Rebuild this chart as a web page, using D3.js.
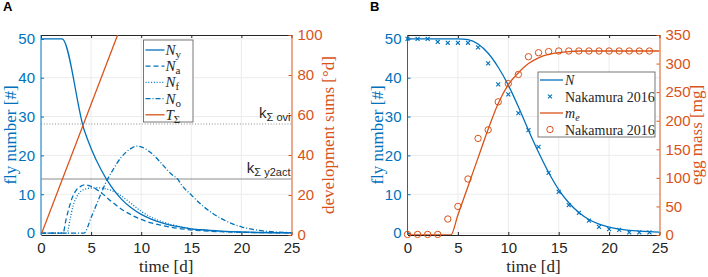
<!DOCTYPE html>
<html>
<head>
<meta charset="utf-8">
<script src="https://cdn.jsdelivr.net/npm/d3@7"></script>
<style>
body { margin: 0; background: #fff; }
</style>
</head>
<body>
<script>
const w = 708, h = 277;
const blue = "#0072BD", orange = "#D95319";
const sans = "'Liberation Sans', Arial, sans-serif";
const serif = "'Liberation Serif', 'DejaVu Serif', serif";

const timeTicks = [0, 5, 10, 15, 20, 25];
const flyTicks = [0, 10, 20, 30, 40, 50];
const sumTicks = [0, 20, 40, 60, 80, 100];
const massTicks = [0, 50, 100, 150, 200, 250, 300, 350];

// panel A
const nyT = [0, 2.1, 4.3, 5, 6, 7, 8, 9, 10, 11, 12, 13, 14, 15, 16, 18, 20, 22, 25];
const nyV = [50, 50, 26.6, 21.8, 16.3, 12.0, 8.8, 6.5, 4.8, 3.6, 2.7, 2.0, 1.5, 1.1, 0.85, 0.5, 0.28, 0.15, 0.06];
const naT = [0, 2.2, 2.5, 2.8, 3.1, 3.5, 4.0, 4.4, 5, 6, 7, 8, 9, 10, 11, 12, 13, 14, 16, 18, 20, 25];
const naV = [0, 0, 3.5, 6.5, 9.0, 11.0, 12.1, 12.4, 12.0, 10.4, 8.2, 6.2, 4.7, 3.5, 2.6, 2.0, 1.5, 1.1, 0.6, 0.35, 0.2, 0.05];
const nfT = [0, 2.6, 2.9, 3.2, 3.6, 4.0, 4.5, 5, 5.5, 6, 7, 8, 9, 10, 11, 12, 13, 14, 15, 17, 20, 25];
const nfV = [0, 0, 3.5, 7.0, 9.5, 10.8, 11.4, 11.6, 11.7, 11.6, 11.0, 9.6, 7.6, 5.6, 4.1, 3.0, 2.2, 1.6, 1.1, 0.6, 0.2, 0.05];
const noT = [0, 4.3, 5, 6, 6.6, 7, 8, 9, 9.6, 10, 11, 12, 13, 13.7, 14, 15, 16, 17, 18, 19, 20, 21, 22, 23, 25];
const noV = [0, 0, 4, 10.2, 13.7, 15.5, 19.5, 21.8, 22.4, 22.2, 20.6, 18.0, 15.2, 13.7, 12.5, 9.8, 7.3, 5.3, 3.7, 2.5, 1.6, 1.0, 0.6, 0.35, 0.1];
const tsT = [0, 25];
const tsV = [0, 327];
const kOvi = 55.5;
const kY2act = 28;

// panel B
const nT = [0, 1, 2, 3, 4, 5, 6, 7, 8, 9, 10, 11, 12, 13, 14, 15, 16, 17, 18, 19, 20, 21, 22, 23, 24, 25];
const nV = [50, 50, 50, 50, 50, 50, 49.8, 48.7, 46.3, 42.7, 38.1, 32.5, 26.5, 20.8, 15.6, 11.2, 7.8, 5.3, 3.5, 2.3, 1.5, 1.0, 0.7, 0.5, 0.35, 0.25];
const nakNT = [0, 1, 2, 3, 4, 5, 6, 7, 8, 9, 10, 11, 12, 13, 14, 15, 16, 17, 18, 19, 20, 21, 22, 23, 24];
const nakNV = [50, 50, 50, 49.2, 49.0, 49.0, 49.0, 47.8, 43.7, 38.3, 35.7, 30.9, 26.5, 22.2, 15.5, 10.6, 7.2, 5.2, 3.2, 1.6, 1.0, 0.8, 0.2, 0.2, 0.2];
const meT = [0, 4.3, 5, 6, 7, 8, 9, 10, 11, 12, 13, 14, 15, 16, 17, 20, 25];
const meV = [0, 0, 35, 85, 135, 185, 230, 263, 284, 300, 310, 316, 319, 321, 322, 322, 322];
const nakMT = [0, 1, 2, 3, 4, 5, 6, 7, 8, 9, 10, 11, 12, 13, 14, 15, 16, 17, 18, 19, 20, 21, 22, 23, 24];
const nakMV = [1, 1, 1, 1, 28, 50, 98, 169, 184, 233, 265, 281, 312, 319, 321, 322, 322, 322, 322, 322, 322, 322, 322, 322, 322];

const svg = d3.select("body").append("svg").attr("width", w).attr("height", h);

function zip(t, v) { return t.map((d, i) => [d, v[i]]); }

function panel(id, x0, x1, rightTicks, rightMax, rightLabel, letter, letterX) {
  const top = 35, bottom = 235;
  const x = d3.scaleLinear().domain([0, 25]).range([x0, x1]);
  const yl = d3.scaleLinear().domain([-0.5, 51]).range([bottom, top]);
  const yr = d3.scaleLinear().domain([0, rightMax]).range([bottom, top]);
  const g = svg.append("g");

  g.append("clipPath").attr("id", "clip" + id).append("rect")
    .attr("x", x0).attr("y", top).attr("width", x1 - x0).attr("height", bottom - top);

  // grid
  g.selectAll(".gx").data(timeTicks.slice(1, -1)).enter().append("line")
    .attr("x1", d => x(d)).attr("x2", d => x(d)).attr("y1", top).attr("y2", bottom)
    .attr("stroke", "#ececec");
  g.selectAll(".gy").data(flyTicks).enter().append("line")
    .attr("x1", x0).attr("x2", x1).attr("y1", d => yl(d)).attr("y2", d => yl(d))
    .attr("stroke", "#ececec");

  const bottomAxis = g.append("g").attr("transform", "translate(0," + bottom + ")")
    .call(d3.axisBottom(x).tickValues(timeTicks).tickSize(-3).tickSizeOuter(0).tickPadding(7));
  bottomAxis.selectAll("text").style("font-size", "15px").style("font-family", sans).attr("fill", "#262626");
  bottomAxis.selectAll("line,path").attr("stroke", "#262626");
  const topAxis = g.append("g").attr("transform", "translate(0," + top + ")")
    .call(d3.axisTop(x).tickValues(timeTicks).tickSize(-3).tickSizeOuter(0).tickFormat(""));
  topAxis.selectAll("line,path").attr("stroke", "#262626");

  const la = g.append("g").attr("transform", "translate(" + x0 + ",0)")
    .call(d3.axisLeft(yl).tickValues(flyTicks).tickSize(-3).tickSizeOuter(0).tickPadding(6));
  la.select("path").attr("d", "M0," + top + "V" + bottom);
  la.selectAll("line,path").attr("stroke", blue);
  la.selectAll("text").style("font-size", "15px").style("font-family", sans).attr("fill", blue);

  const ra = g.append("g").attr("transform", "translate(" + x1 + ",0)")
    .call(d3.axisRight(yr).tickValues(rightTicks).tickSize(-3).tickSizeOuter(0).tickPadding(6));
  ra.selectAll("line,path").attr("stroke", orange);
  ra.selectAll("text").style("font-size", "15px").style("font-family", sans).attr("fill", orange);

  g.append("text").attr("x", (x0 + x1) / 2).attr("y", 272)
    .attr("text-anchor", "middle").style("font-family", serif).style("font-size", "17px")
    .attr("fill", "#262626").text("time [d]");
  g.append("text").attr("transform", "translate(" + (x0 - 25) + ",135) rotate(-90)")
    .attr("text-anchor", "middle").style("font-family", serif).style("font-size", "17px")
    .attr("fill", blue).text("fly number [#]");
  g.append("text").attr("transform", "translate(" + (x1 + 42) + ",135) rotate(-90)")
    .attr("text-anchor", "middle").style("font-family", serif).style("font-size", "17px")
    .attr("fill", orange).text(rightLabel);
  g.append("text").attr("x", letterX).attr("y", 11).style("font-family", sans)
    .style("font-weight", "bold").style("font-size", "13px").text(letter);

  const plot = g.append("g").attr("clip-path", "url(#clip" + id + ")");
  return { x, yl, yr, g, plot };
}

const A = panel("A", 41, 291.5, sumTicks, 100, "development sums [°d]", "A", 3);
const B = panel("B", 407.5, 659.5, massTicks, 350, "egg mass [mg]", "B", 370);

// panel A marks
const lineA = d3.line().x(d => A.x(d[0])).y(d => A.yl(d[1])).curve(d3.curveMonotoneX);
const seriesA = [
  { data: zip(nyT, nyV), dash: null },
  { data: zip(naT, naV), dash: "5,3" },
  { data: zip(nfT, nfV), dash: "1,1.8" },
  { data: zip(noT, noV), dash: "5,2,1,2" }
];

A.plot.append("line").attr("x1", A.x(0)).attr("x2", A.x(25))
  .attr("y1", A.yr(kOvi)).attr("y2", A.yr(kOvi))
  .attr("stroke", "#8a8a8a").attr("stroke-dasharray", "1,1.8");
A.plot.append("line").attr("x1", A.x(0)).attr("x2", A.x(25))
  .attr("y1", A.yr(kY2act)).attr("y2", A.yr(kY2act))
  .attr("stroke", "#8a8a8a");

seriesA.forEach(s => {
  A.plot.append("path").datum(s.data).attr("d", lineA)
    .attr("fill", "none").attr("stroke", blue).attr("stroke-width", 1.3)
    .attr("stroke-dasharray", s.dash);
});
A.plot.append("path").datum(zip(tsT, tsV))
  .attr("d", d3.line().x(d => A.x(d[0])).y(d => A.yr(d[1])))
  .attr("fill", "none").attr("stroke", orange).attr("stroke-width", 1.3);

function kLabel(y, sub) {
  const t = A.g.append("text").attr("x", A.x(25) - 1).attr("y", y).attr("text-anchor", "end")
    .attr("fill", "#262626").style("font-family", sans).style("font-size", "15px");
  t.append("tspan").text("k");
  t.append("tspan").style("font-size", "11px").attr("dy", 3).text(sub);
}
kLabel(A.yr(kOvi) - 6, "Σ ovi");
kLabel(A.yr(kY2act) - 6, "Σ y2act");

// legend A
const legA = A.g.append("g").attr("transform", "translate(143.5,40)");
legA.append("rect").attr("width", 49.5).attr("height", 82).attr("fill", "#fff").attr("stroke", "#555").attr("stroke-width", 0.8);
const legAItems = [
  { n: "N", s: "y", c: blue, dash: null },
  { n: "N", s: "a", c: blue, dash: "5,3" },
  { n: "N", s: "f", c: blue, dash: "1,1.8" },
  { n: "N", s: "o", c: blue, dash: "5,2,1,2" },
  { n: "T", s: "Σ", c: orange, dash: null }
];
legAItems.forEach((d, i) => {
  const yy = 10 + i * 16.2;
  legA.append("line").attr("x1", 2).attr("x2", 21).attr("y1", yy).attr("y2", yy)
    .attr("stroke", d.c).attr("stroke-width", 1.3).attr("stroke-dasharray", d.dash);
  const t = legA.append("text").attr("x", 22).attr("y", yy + 5).style("font-family", serif)
    .style("font-size", "15px").attr("fill", "#262626");
  t.append("tspan").style("font-style", "italic").text(d.n);
  t.append("tspan").style("font-size", "11px").attr("dy", 3).text(d.s);
});

// panel B marks
B.plot.append("path").datum(zip(nT, nV))
  .attr("d", d3.line().x(d => B.x(d[0])).y(d => B.yl(d[1])).curve(d3.curveMonotoneX))
  .attr("fill", "none").attr("stroke", blue).attr("stroke-width", 1.3);
B.plot.append("path").datum(zip(meT, meV))
  .attr("d", d3.line().x(d => B.x(d[0])).y(d => B.yr(d[1])).curve(d3.curveMonotoneX))
  .attr("fill", "none").attr("stroke", orange).attr("stroke-width", 1.3);

const cross = d3.symbol().type(d3.symbolX).size(12);
B.g.selectAll(".nakN").data(zip(nakNT, nakNV)).enter().append("path")
  .attr("d", cross).attr("transform", d => "translate(" + B.x(d[0]) + "," + B.yl(d[1]) + ")")
  .attr("fill", "none").attr("stroke", blue).attr("stroke-width", 1.1);
B.g.selectAll(".nakM").data(zip(nakMT, nakMV)).enter().append("circle")
  .attr("cx", d => B.x(d[0])).attr("cy", d => B.yr(d[1])).attr("r", 3.2)
  .attr("fill", "none").attr("stroke", orange).attr("stroke-width", 1);

// legend B
const legB = B.g.append("g").attr("transform", "translate(538,72)");
legB.append("rect").attr("width", 117).attr("height", 65).attr("fill", "#fff").attr("stroke", "#555").attr("stroke-width", 0.8);
const legBItems = [
  { kind: "line", c: blue, label: "N", sub: "" },
  { kind: "x", c: blue, label: "Nakamura 2016", sub: "" },
  { kind: "line", c: orange, label: "m", sub: "e" },
  { kind: "o", c: orange, label: "Nakamura 2016", sub: "" }
];
legBItems.forEach((d, i) => {
  const yy = 8 + i * 16.5;
  if (d.kind === "line") {
    legB.append("line").attr("x1", 2).attr("x2", 25).attr("y1", yy).attr("y2", yy)
      .attr("stroke", d.c).attr("stroke-width", 1.3);
  } else if (d.kind === "x") {
    legB.append("path").attr("d", cross).attr("transform", "translate(12," + yy + ")")
      .attr("fill", "none").attr("stroke", d.c).attr("stroke-width", 1.1);
  } else {
    legB.append("circle").attr("cx", 12).attr("cy", yy).attr("r", 3.2)
      .attr("fill", "none").attr("stroke", d.c);
  }
  const t = legB.append("text").attr("x", 27).attr("y", yy + 5).style("font-family", serif)
    .style("font-size", "14px").attr("fill", "#262626");
  if (d.label === "Nakamura 2016") {
    t.text(d.label);
  } else {
    t.append("tspan").style("font-style", "italic").text(d.label);
    if (d.sub) t.append("tspan").style("font-size", "10px").attr("dy", 3).style("font-style", "italic").text(d.sub);
  }
});
</script>
</body>
</html>
